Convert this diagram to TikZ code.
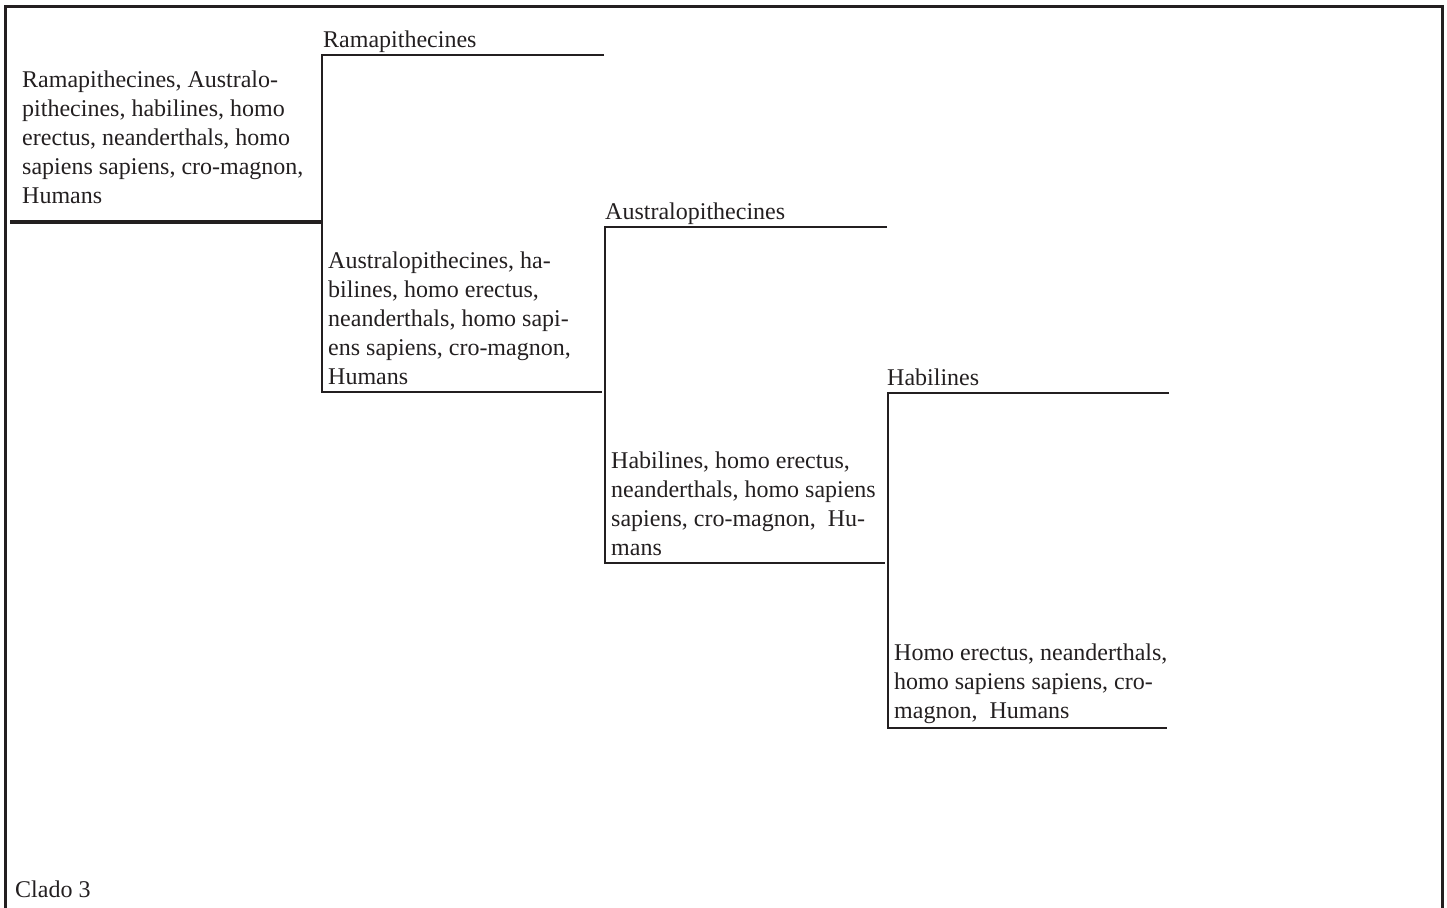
\documentclass[tikz,border=0pt]{standalone}
\usepackage{fontspec}
\setmainfont{Liberation Serif}
\definecolor{ink}{HTML}{231F20}
\begin{document}
\begin{tikzpicture}[x=1pt,y=-1pt,
  lbl/.style={anchor=base west,inner sep=0pt,text=ink,font=\fontsize{24}{28.8}\selectfont,align=left},
  branch/.style={draw=ink,line width=2.5pt},
  rootline/.style={draw=ink,line width=3.8pt},
  frame/.style={draw=ink,line width=3pt}]
\useasboundingbox (0,0) rectangle (1447,907);
\draw[frame] (5,920) -- (5,7) -- (1442,7) -- (1442,920);
% tree joints
\coordinate (r0) at (10,222);
\coordinate (r1) at (322,222);
\coordinate (a1) at (322,55);
\coordinate (b1) at (322,392);
\coordinate (a1e) at (604,55);
\coordinate (b1e) at (602,392);
\coordinate (a2) at (605,227);
\coordinate (b2) at (605,563);
\coordinate (a2e) at (887,227);
\coordinate (b2e) at (885,563);
\coordinate (a3) at (888,393);
\coordinate (b3) at (888,728);
\coordinate (a3e) at (1169,393);
\coordinate (b3e) at (1167,728);
\draw[rootline] (r0) -- (r1);
\draw[branch] (a1e) -- (a1) -- (b1) -- (b1e);
\draw[branch] (a2e) -- (a2) -- (b2) -- (b2e);
\draw[branch] (a3e) -- (a3) -- (b3) -- (b3e);
% texts (base anchor = last line baseline)
\node[lbl] (t0) at (22,203) {Ramapithecines, Australo-\\pithecines, habilines, homo\\erectus, neanderthals, homo\\sapiens sapiens, cro-magnon,\\Humans};
\node[lbl] (l1) at (323,48) {Ramapithecines};
\node[lbl] (t1) at (328,384) {Australopithecines, ha-\\bilines, homo erectus,\\neanderthals, homo sapi-\\ens sapiens, cro-magnon,\\Humans};
\node[lbl] (l2) at (605,219) {Australopithecines};
\node[lbl] (t2) at (611,555) {Habilines, homo erectus,\\neanderthals, homo sapiens\\sapiens, cro-magnon,~ Hu-\\mans};
\node[lbl] (l3) at (887,385) {Habilines};
\node[lbl] (t3) at (894,718) {Homo erectus, neanderthals,\\homo sapiens sapiens, cro-\\magnon,~ Humans};
\node[lbl] (cl) at (15,897) {Clado 3};
\end{tikzpicture}
\end{document}
